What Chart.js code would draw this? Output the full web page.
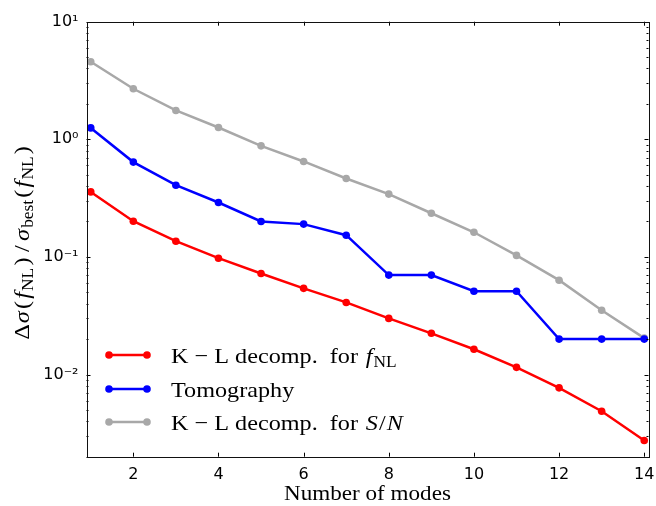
<!DOCTYPE html>
<html>
<head>
<meta charset="utf-8">
<script src="https://cdn.jsdelivr.net/npm/chart.js@4/dist/chart.umd.min.js"></script>
<style>
  html, body { margin: 0; padding: 0; background: #fff; }
  #wrap { width: 656px; height: 506px; }
</style>
</head>
<body>
<div id="wrap"><canvas id="c" width="656" height="506"></canvas></div>
<script>
// Number of modes kept
const modes = [1, 2, 3, 4, 5, 6, 7, 8, 9, 10, 11, 12, 13, 14];
// Relative error on f_NL for each mode-selection scheme
const klFnl = [0.357, 0.201, 0.136, 0.0975, 0.0723, 0.054, 0.041, 0.030, 0.0224, 0.0164, 0.0115, 0.0077, 0.00487, 0.00275];
const tomography = [1.25, 0.64, 0.407, 0.29, 0.20, 0.19, 0.153, 0.070, 0.070, 0.051, 0.051, 0.020, 0.020, 0.020];
const klSN = [4.57, 2.69, 1.76, 1.26, 0.88, 0.648, 0.464, 0.342, 0.235, 0.162, 0.103, 0.0634, 0.0352, 0.0204];
// Tick values
const xTicks = [2, 4, 6, 8, 10, 12, 14];
const yTicks = [0.01, 0.1, 1, 10];

const SERIF = '"Liberation Serif", "DejaVu Serif", serif';
const SANS = '"DejaVu Sans", sans-serif';
const STRETCH = 1.1; // widen the Times-like serif toward a Computer Modern look

const toPts = (ys) => modes.map((m, i) => ({ x: m, y: ys[i] }));

const series = [
  { label: 'K − L decomp. for f_NL', data: klFnl, color: '#ff0000',
    rich: [{ t: 'K − L decomp.  for' }, { t: 'f', it: true, pad: 7 }, { t: 'NL', sub: true, pad: 1 }] },
  { label: 'Tomography', data: tomography, color: '#0000ff',
    rich: [{ t: 'Tomography' }] },
  { label: 'K − L decomp. for S/N', data: klSN, color: '#a8a8a8',
    rich: [{ t: 'K − L decomp.  for' }, { t: 'S', it: true, pad: 7 }, { t: '/', pad: 1 }, { t: 'N', it: true, pad: 1 }] }
];

function partFont(p, size) {
  const s = p.sub ? size * 0.72 : size;
  return (p.it ? 'italic ' : '') + s.toFixed(1) + 'px ' + SERIF;
}
// Width of a run of text pieces (italic / subscript / extra gaps), before stretching
function richWidth(ctx, parts, size) {
  let w = 0;
  for (const p of parts) {
    ctx.font = partFont(p, size);
    w += (p.pad || 0) + ctx.measureText(p.t).width;
  }
  return w;
}
// Draw the run starting at x with baseline y
function drawRich(ctx, parts, x, y, size) {
  ctx.save();
  ctx.translate(x, y);
  ctx.scale(STRETCH, 1);
  ctx.textBaseline = 'alphabetic';
  ctx.textAlign = 'left';
  let cx = 0;
  for (const p of parts) {
    ctx.font = partFont(p, size);
    cx += p.pad || 0;
    ctx.fillText(p.t, cx, p.sub ? size * 0.2 : 0);
    cx += ctx.measureText(p.t).width;
  }
  ctx.restore();
}

// Frame, inward ticks on all four sides, axis titles and in-axes legend
const decorations = {
  id: 'decorations',
  afterDraw(chart) {
    const ctx = chart.ctx;
    const a = chart.chartArea;
    const xs = chart.scales.x, ys = chart.scales.y;
    ctx.save();
    ctx.strokeStyle = '#000';
    ctx.lineWidth = 1;
    ctx.beginPath();
    for (const v of xTicks) {
      const px = Math.round(xs.getPixelForValue(v)) + 0.5;
      ctx.moveTo(px, a.bottom); ctx.lineTo(px, a.bottom - 4);
      ctx.moveTo(px, a.top); ctx.lineTo(px, a.top + 4);
    }
    for (let e = -3; e <= 1; e++) {
      for (let k = 1; k <= 9; k++) {
        const v = k * Math.pow(10, e);
        if (v < ys.min * 0.999 || v > ys.max * 1.001) continue;
        const py = Math.round(ys.getPixelForValue(v)) + 0.5;
        const len = k === 1 ? 4 : 2;
        ctx.moveTo(a.left, py); ctx.lineTo(a.left + len, py);
        ctx.moveTo(a.right, py); ctx.lineTo(a.right - len, py);
      }
    }
    ctx.stroke();
    ctx.strokeStyle = '#111';
    ctx.strokeRect(Math.round(a.left) + 0.5, Math.round(a.top) + 0.5,
      Math.round(a.right - a.left), Math.round(a.bottom - a.top));

    // y-axis title
    const ySize = 22;
    const yParts = [
      { t: 'Δ' }, { t: 'σ', it: true, pad: 1 }, { t: '(', pad: 2 }, { t: 'f', it: true, pad: 2 }, { t: 'NL', sub: true, pad: 1 },
      { t: ')', pad: 2 }, { t: '/', pad: 5 }, { t: 'σ', it: true, pad: 4 }, { t: 'best', sub: true, pad: 1 },
      { t: '(', pad: 2 }, { t: 'f', it: true, pad: 2 }, { t: 'NL', sub: true, pad: 1 }, { t: ')', pad: 2 }
    ];
    ctx.fillStyle = '#000';
    const w = richWidth(ctx, yParts, ySize) * STRETCH;
    ctx.save();
    ctx.translate(29, 243);
    ctx.rotate(-Math.PI / 2);
    drawRich(ctx, yParts, -w / 2, 0, ySize);
    ctx.restore();

    // legend
    const lx0 = 109, lx1 = 147, tx = 171;
    const rows = [355, 389, 422];
    series.forEach((s, i) => {
      const y = rows[i];
      ctx.strokeStyle = s.color;
      ctx.lineWidth = 2.5;
      ctx.beginPath(); ctx.moveTo(lx0, y); ctx.lineTo(lx1, y); ctx.stroke();
      ctx.fillStyle = s.color;
      for (const px of [lx0, lx1]) {
        ctx.beginPath(); ctx.arc(px, y, 3.8, 0, Math.PI * 2); ctx.fill();
      }
      ctx.fillStyle = '#000';
      drawRich(ctx, s.rich, tx, y + 8, 22);
    });

    // x-axis title
    const xParts = [{ t: 'Number of modes' }];
    const xw = richWidth(ctx, xParts, 21) * STRETCH;
    drawRich(ctx, xParts, (a.left + a.right) / 2 - xw / 2, 500, 21);
    ctx.restore();
  }
};

const supers = { '-': '⁻', '0': '⁰', '1': '¹', '2': '²', '3': '³' };
const fmtPow = (v) => '10' + String(Math.round(Math.log10(v))).split('').map(c => supers[c]).join('');

new Chart(document.getElementById('c'), {
  type: 'line',
  data: {
    datasets: series.map(s => ({
      label: s.label,
      data: toPts(s.data),
      borderColor: s.color,
      backgroundColor: s.color,
      borderWidth: 2.5,
      pointRadius: 3.8,
      pointHoverRadius: 3.8,
      pointBorderWidth: 0,
      tension: 0,
      clip: false
    }))
  },
  options: {
    responsive: false,
    animation: false,
    events: [],
    layout: { padding: { left: 0, right: 7.5, top: 21.7, bottom: 0 } },
    plugins: { legend: { display: false }, tooltip: { enabled: false }, title: { display: false } },
    scales: {
      x: {
        type: 'linear',
        min: 0.9, max: 14.1,
        grid: { display: false, drawTicks: false },
        border: { display: false },
        afterBuildTicks: (sc) => { sc.ticks = xTicks.map(v => ({ value: v })); },
        afterFit: (sc) => { sc.height = 506 - 456.7; sc.paddingLeft = 0; sc.paddingRight = 0; },
        ticks: { padding: 9, color: '#000', font: { family: SANS, size: 16 }, maxRotation: 0, autoSkip: false }
      },
      y: {
        type: 'logarithmic',
        min: 0.002, max: 10,
        grid: { display: false, drawTicks: false },
        border: { display: false },
        afterBuildTicks: (sc) => { sc.ticks = yTicks.map(v => ({ value: v })); },
        afterFit: (sc) => { sc.width = 86.5; sc.paddingTop = 0; sc.paddingBottom = 0; },
        ticks: { padding: 8, color: '#000', font: { family: SANS, size: 16 }, autoSkip: false, callback: (v) => fmtPow(v) }
      }
    }
  },
  plugins: [decorations]
});
</script>
</body>
</html>
